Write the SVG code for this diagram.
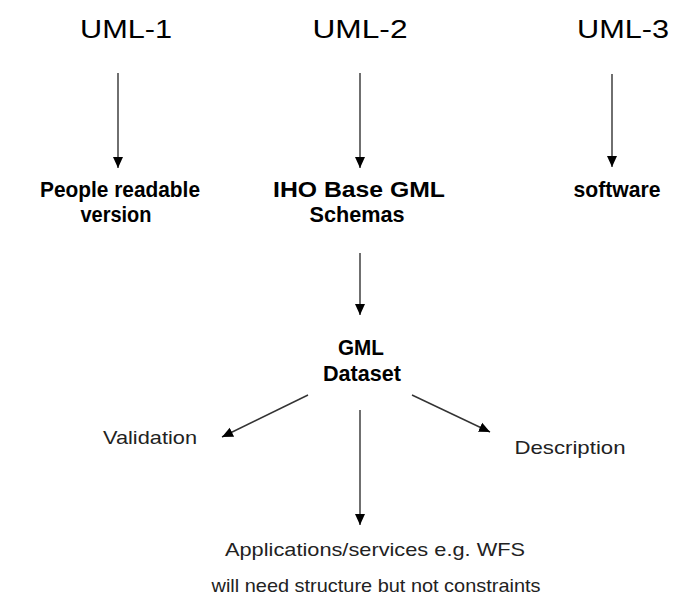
<svg xmlns="http://www.w3.org/2000/svg" width="674" height="601" viewBox="0 0 674 601">
  <style>
    .title { font-family: "Liberation Sans", Arial, sans-serif; font-size: 25px; fill: #000; text-anchor: middle; }
    .node { font-family: "Liberation Sans", Arial, sans-serif; font-size: 22px; font-weight: bold; fill: #000; text-anchor: middle; }
    .note { font-family: "Liberation Sans", Arial, sans-serif; font-size: 19px; fill: #222; text-anchor: middle; }
    .link { stroke: #333; stroke-width: 1.4; fill: none; marker-end: url(#head); }
  </style>
  <defs>
    <marker id="head" markerUnits="userSpaceOnUse" markerWidth="12" markerHeight="12" viewBox="0 0 12 12" refX="11" refY="6" orient="auto">
      <path d="M0,1 L11,6 L0,11 Z" fill="#000"/>
    </marker>
  </defs>
  <rect width="674" height="601" fill="#fff"/>

  <g id="uml1"><text class="title" x="126" y="38" textLength="92" lengthAdjust="spacingAndGlyphs">UML-1</text></g>
  <g id="uml2"><text class="title" x="360" y="38" textLength="95" lengthAdjust="spacingAndGlyphs">UML-2</text></g>
  <g id="uml3"><text class="title" x="623" y="38" textLength="92" lengthAdjust="spacingAndGlyphs">UML-3</text></g>

  <g id="people-readable">
    <text class="node" x="120" y="197" textLength="160" lengthAdjust="spacingAndGlyphs">People readable</text>
    <text class="node" x="116" y="222" textLength="71" lengthAdjust="spacingAndGlyphs">version</text>
  </g>
  <g id="iho-schemas">
    <text class="node" x="359" y="197" textLength="172" lengthAdjust="spacingAndGlyphs">IHO Base GML</text>
    <text class="node" x="357" y="222" textLength="95" lengthAdjust="spacingAndGlyphs">Schemas</text>
  </g>
  <g id="software"><text class="node" x="617" y="197" textLength="87" lengthAdjust="spacingAndGlyphs">software</text></g>
  <g id="gml-dataset">
    <text class="node" x="361" y="355" textLength="46" lengthAdjust="spacingAndGlyphs">GML</text>
    <text class="node" x="362" y="381" textLength="78" lengthAdjust="spacingAndGlyphs">Dataset</text>
  </g>
  <g id="validation"><text class="note" x="150" y="444" textLength="94" lengthAdjust="spacingAndGlyphs">Validation</text></g>
  <g id="description"><text class="note" x="570" y="454" textLength="111" lengthAdjust="spacingAndGlyphs">Description</text></g>
  <g id="applications">
    <text class="note" x="375" y="556" textLength="300" lengthAdjust="spacingAndGlyphs">Applications/services e.g. WFS</text>
    <text class="note" x="376" y="592" textLength="329" lengthAdjust="spacingAndGlyphs">will need structure but not constraints</text>
  </g>

  <g id="connectors">
    <line class="link" x1="118" y1="73" x2="118" y2="168"/>
    <line class="link" x1="360" y1="73" x2="360" y2="168"/>
    <line class="link" x1="612" y1="74" x2="612" y2="167"/>
    <line class="link" x1="360" y1="253" x2="360" y2="315"/>
    <line class="link" x1="360" y1="410" x2="360" y2="525"/>
    <line class="link" x1="308" y1="395" x2="222" y2="437"/>
    <line class="link" x1="412" y1="395" x2="490" y2="432"/>
  </g>
</svg>
